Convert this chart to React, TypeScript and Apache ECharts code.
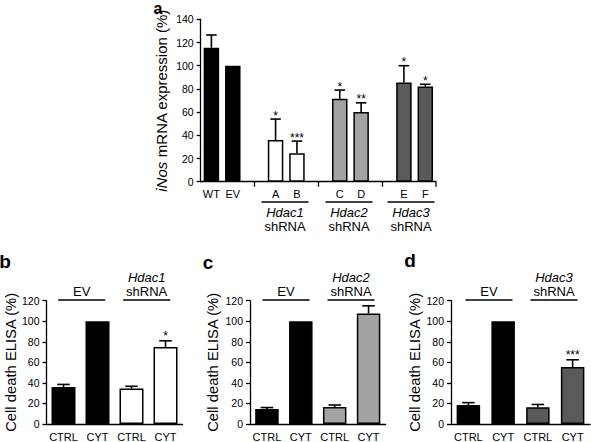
import React, { useEffect, useRef } from 'react';
import * as echarts from 'echarts';

// ---------- Data ----------
// Panel a: iNos mRNA expression (%)
const catsA = ['WT', 'EV', '', 'A', 'B', '', 'C', 'D', '', 'E', 'F'];
const valsA = [115.5, 100, null, 36, 24.5, null, 71.5, 60, null, 85.5, 82];
const errA = [126.5, null, null, 54, 35, null, 79, 68, null, 100, 84];
const starsA = ['', '', '', '*', '***', '', '*', '**', '', '*', '*'];
const kindA = ['ctrl', 'ctrl', '', 'hdac1', 'hdac1', '', 'hdac2', 'hdac2', '', 'hdac3', 'hdac3'];

// Panels b, c, d: Cell death ELISA (%)
const catsBottom = ['CTRL', 'CYT', 'CTRL', 'CYT'];
const valsB = [36, 100, 34.5, 75];
const errB = [38.5, null, 36.7, 81];
const starsB = ['', '', '', '*'];
const kindB = ['ctrl', 'ctrl', 'hdac1', 'hdac1'];

const valsC = [14.5, 100, 16.5, 107.5];
const errC = [16, null, 18.5, 115];
const starsC = ['', '', '', ''];
const kindC = ['ctrl', 'ctrl', 'hdac2', 'hdac2'];

const valsD = [18.5, 100, 16.3, 55.5];
const errD = [20.8, null, 19, 62.5];
const starsD = ['', '', '', '***'];
const kindD = ['ctrl', 'ctrl', 'hdac3', 'hdac3'];

const groupNamesA = ['Hdac1', 'Hdac2', 'Hdac3'];

// ---------- Styles ----------
const FONT = "'Liberation Sans', Arial, Helvetica, sans-serif";
const fill: Record<string, string> = {
  ctrl: '#000000',
  hdac1: '#ffffff',
  hdac2: '#a3a3a3',
  hdac3: '#5a5a5a',
};

function barData(vals: (number | null)[], kinds: string[]) {
  return vals.map((v, i) =>
    v == null
      ? null
      : {
          value: v,
          itemStyle: { color: fill[kinds[i]], borderColor: '#000', borderWidth: 1.5 },
        }
  );
}

function errSeries(
  idx: number,
  vals: (number | null)[],
  errs: (number | null)[],
  stars: string[],
  cap: number,
  starOffset: number
) {
  return {
    type: 'custom',
    xAxisIndex: idx,
    yAxisIndex: idx,
    z: 5,
    silent: true,
    data: vals.map((v, i) => [i, v == null ? NaN : v, errs[i] == null ? NaN : errs[i]]),
    renderItem: (params: any, api: any) => {
      const i = api.value(0);
      const v = api.value(1);
      const e = api.value(2);
      if (isNaN(v)) return null;
      const base = api.coord([i, v]);
      let topY = base[1];
      const children: any[] = [];
      if (!isNaN(e)) {
        const top = api.coord([i, e]);
        topY = top[1];
        children.push({
          type: 'line',
          shape: { x1: base[0], y1: base[1], x2: base[0], y2: top[1] },
          style: { stroke: '#000', lineWidth: 1.6 },
        });
        children.push({
          type: 'line',
          shape: { x1: base[0] - cap / 2, y1: top[1], x2: base[0] + cap / 2, y2: top[1] },
          style: { stroke: '#000', lineWidth: 1.6 },
        });
      }
      const s = stars[params.dataIndex];
      if (s) {
        children.push({
          type: 'text',
          x: base[0],
          y: topY - starOffset,
          style: {
            text: s,
            align: 'center',
            verticalAlign: 'middle',
            fontSize: 12,
            fontFamily: FONT,
            fill: '#000',
          },
        });
      }
      return { type: 'group', children };
    },
  };
}

const axisLine = { show: true, lineStyle: { color: '#000', width: 1.3 } };

function yAxisDef(idx: number, max: number, name: string, gap: number, nameSize: number) {
  return {
    type: 'value',
    gridIndex: idx,
    min: 0,
    max,
    interval: 20,
    axisLine,
    axisTick: { show: true, length: 4, lineStyle: { color: '#000', width: 1.3 } },
    axisLabel: { color: '#000', fontSize: 10.5, fontFamily: FONT, margin: 7 },
    splitLine: { show: false },
    name,
    nameLocation: 'middle',
    nameGap: gap,
    nameTextStyle: {
      color: '#000',
      fontSize: nameSize,
      fontFamily: FONT,
      rich: { i: { fontStyle: 'italic', fontSize: nameSize, fontFamily: FONT, color: '#000' } },
    },
  };
}

function txt(text: string, x: number, y: number, size: number, extra: any = {}) {
  return {
    type: 'text',
    x,
    y,
    style: {
      text,
      align: 'center',
      verticalAlign: 'middle',
      fontSize: size,
      fontFamily: FONT,
      fill: '#000',
      ...extra,
    },
  };
}
function hline(x1: number, x2: number, y: number) {
  return {
    type: 'line',
    shape: { x1, y1: y, x2, y2: y },
    style: { stroke: '#000', lineWidth: 1.3 },
  };
}

export default function App() {
  const ref = useRef<HTMLDivElement>(null);
  useEffect(() => {
    if (!ref.current) return;
    const chart = echarts.init(ref.current, undefined, { renderer: 'svg' });

    const grids = [
      { left: 200.7, top: 19.3, width: 235.3, height: 162.4 },
      { left: 46.5, top: 300.7, width: 136, height: 124 },
      { left: 250, top: 300.7, width: 135.5, height: 124 },
      { left: 451, top: 300.7, width: 139, height: 124 },
    ];

    const xAxes = [
      {
        type: 'category',
        gridIndex: 0,
        data: catsA,
        axisLine,
        axisTick: {
          show: true,
          alignWithLabel: true,
          length: 5,
          interval: (index: number) => catsA[index] === '',
          lineStyle: { color: '#000', width: 1.3 },
        },
        axisLabel: { color: '#000', fontSize: 11, fontFamily: FONT, margin: 7, interval: 0 },
      },
      ...[1, 2, 3].map((g) => ({
        type: 'category',
        gridIndex: g,
        data: catsBottom,
        axisLine,
        axisTick: { show: false },
        axisLabel: { color: '#000', fontSize: 11, fontFamily: FONT, margin: 7, interval: 0 },
      })),
    ];

    const yAxes = [
      yAxisDef(0, 140, '{i|iNos} mRNA expression (%)', 32, 15),
      yAxisDef(1, 120, 'Cell death ELISA (%)', 23, 14.8),
      yAxisDef(2, 120, 'Cell death ELISA (%)', 29.5, 14.8),
      yAxisDef(3, 120, 'Cell death ELISA (%)', 24.5, 14.8),
    ];

    const barsA = { type: 'bar', xAxisIndex: 0, yAxisIndex: 0, barWidth: 15.5, data: barData(valsA, kindA) };
    const barsB = { type: 'bar', xAxisIndex: 1, yAxisIndex: 1, barWidth: 24, data: barData(valsB, kindB) };
    const barsC = { type: 'bar', xAxisIndex: 2, yAxisIndex: 2, barWidth: 23.5, data: barData(valsC, kindC) };
    const barsD = { type: 'bar', xAxisIndex: 3, yAxisIndex: 3, barWidth: 23.5, data: barData(valsD, kindD) };

    const groupCentersA = [285, 349, 411];
    const graphics: any[] = [
      // panel letters
      txt('a', 158, 0, 16, { fontWeight: 'bold', verticalAlign: 'top' }),
      txt('b', 5, 261, 19, { fontWeight: 'bold' }),
      txt('c', 208, 262, 19, { fontWeight: 'bold' }),
      txt('d', 410, 260, 19, { fontWeight: 'bold' }),
      // end tick of panel a x axis
      { type: 'line', shape: { x1: 436, y1: 181.7, x2: 436, y2: 186.7 }, style: { stroke: '#000', lineWidth: 1.3 } },
    ];
    groupCentersA.forEach((cx, k) => {
      graphics.push(hline(cx - 23.5, cx + 23.5, 202));
      graphics.push(txt(groupNamesA[k], cx, 212.5, 13, { fontStyle: 'italic' }));
      graphics.push(txt('shRNA', cx, 226, 13));
    });
    const bottomGroups = [
      { ev: 81.7, sh: 146.7, name: groupNamesA[0] },
      { ev: 286, sh: 351, name: groupNamesA[1] },
      { ev: 489, sh: 554, name: groupNamesA[2] },
    ];
    bottomGroups.forEach((g) => {
      graphics.push(hline(g.ev - 23.5, g.ev + 23.5, 300));
      graphics.push(hline(g.sh - 23.5, g.sh + 23.5, 300));
      graphics.push(txt('EV', g.ev, 291, 13));
      graphics.push(txt(g.name, g.sh, 277, 13, { fontStyle: 'italic' }));
      graphics.push(txt('shRNA', g.sh, 291, 13));
    });

    chart.setOption({
      animation: false,
      backgroundColor: '#fff',
      grid: grids,
      xAxis: xAxes,
      yAxis: yAxes,
      series: [
        barsA,
        barsB,
        barsC,
        barsD,
        errSeries(0, valsA, errA, starsA, 10.5, 3.5),
        errSeries(1, valsB, errB, starsB, 12.5, 5),
        errSeries(2, valsC, errC, starsC, 12.5, 5),
        errSeries(3, valsD, errD, starsD, 12.5, 5),
      ],
      graphic: graphics,
    });
    return () => chart.dispose();
  }, []);
  return (
    <div
      ref={ref}
      style={{ position: 'fixed', left: 0, top: 0, width: 591, height: 442, background: '#fff' }}
    />
  );
}
